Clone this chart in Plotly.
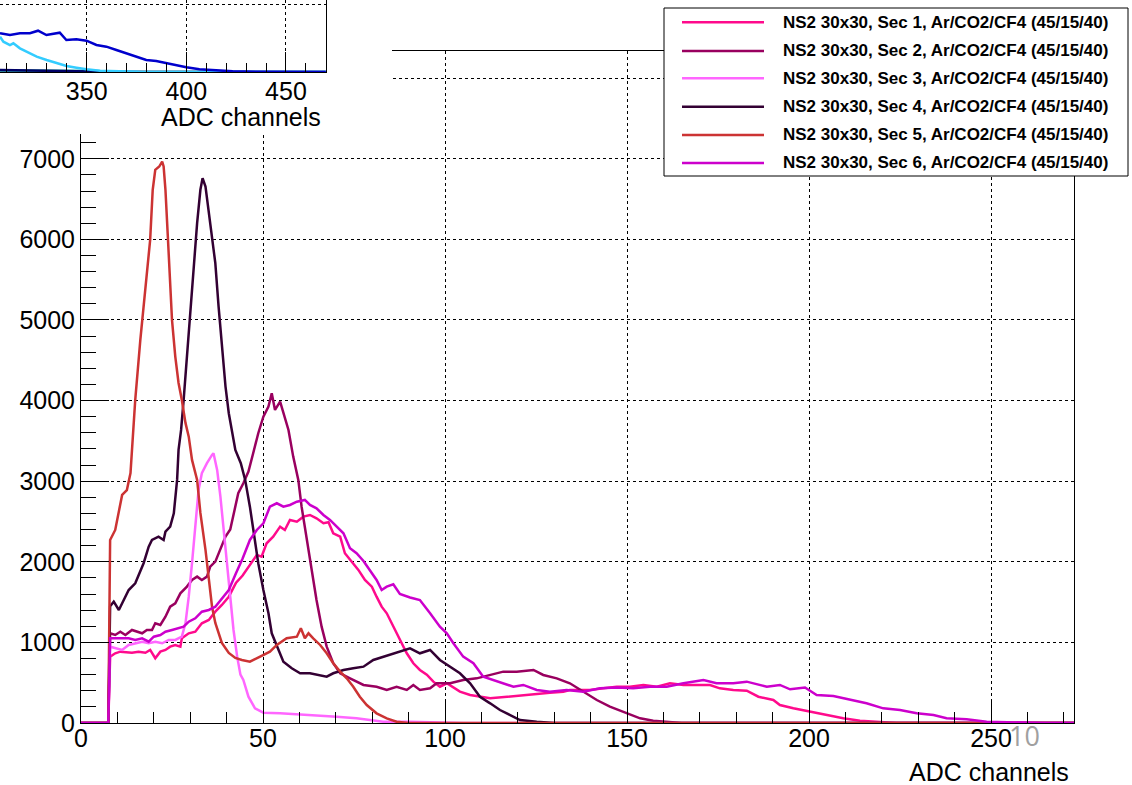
import plotly.graph_objects as go

W, H = 1132, 785

# ---------------- data ----------------
labels = [
    "NS2 30x30, Sec 1, Ar/CO2/CF4 (45/15/40)",
    "NS2 30x30, Sec 2, Ar/CO2/CF4 (45/15/40)",
    "NS2 30x30, Sec 3, Ar/CO2/CF4 (45/15/40)",
    "NS2 30x30, Sec 4, Ar/CO2/CF4 (45/15/40)",
    "NS2 30x30, Sec 5, Ar/CO2/CF4 (45/15/40)",
    "NS2 30x30, Sec 6, Ar/CO2/CF4 (45/15/40)",
]
colors = ["#ff0a8c", "#99005f", "#ff66ff", "#330033", "#cc3333", "#cc00cc"]

sec1_x = [0, 7.5, 8, 9.4, 10.8, 14, 15.8, 17.7, 19, 20.4, 21.8, 23.2, 24.5, 25.9, 27.3, 27.7, 29.6, 31.4,
          33.2, 35.1, 36.9, 38.7, 40.6, 42.6, 44.4, 46.4, 48.3, 49.6, 51, 52.8, 54.7, 56, 57.4, 59.3, 61.1,
          62.9, 64.7, 66.6, 68, 69.3, 71.2, 72.5, 74.4, 76.2, 78, 79.9, 81.2, 82.6, 84, 85.8, 87.6, 89.5,
          91.3, 93.1, 95, 96.8, 98.6, 100.5, 104.1, 106.9, 112.4, 117, 120.6, 125.2, 128.8, 132.5, 134.3,
          136.2, 139.8, 143.5, 147.2, 150.8, 154.5, 158.2, 161.8, 165.5, 170.1, 172.8, 175.5, 179.2,
          182.9, 186.1, 190.2, 192, 195.7, 200.3, 204.9, 209.4, 214, 218.6, 224, 272.8]
sec1_y = [0, 0, 823, 865, 885, 872, 885, 872, 906, 803, 885, 906, 947, 968, 947, 1051, 1113, 1133,
          1237, 1278, 1381, 1464, 1567, 1740, 1830, 1961, 2085, 2064, 2230, 2312, 2436, 2395, 2519, 2498, 2560,
          2581, 2540, 2478, 2490, 2354, 2312, 2106, 2002, 1899, 1775, 1692, 1567, 1443, 1361, 1195, 1030, 865,
          741, 658, 600, 513, 450, 493, 389, 347, 306, 326, 347, 368, 375, 389, 410,
          410, 410, 430, 450, 450, 472, 450, 493, 472, 470, 472, 430, 410,
          400, 326, 285, 223, 182, 140, 99, 58, 29, 16, 0, 0]

sec2_x = [0, 7.5, 8, 9.4, 10.8, 12.2, 14, 15.4, 16.8, 18.1, 19.5, 20.4, 21.8, 23.2, 24.5, 25.9, 27.3,
          29.1, 30.5, 31.9, 33.2, 34.6, 35.5, 36.9, 37.8, 38.7, 39.7, 41, 41.9, 43.2, 44.6, 46, 47.3, 48.7,
          50.1, 51.5, 52.4, 53.3, 54.7, 55.6, 57, 58.3, 59.7, 60.6, 62, 63.4, 64.7, 66.1, 67.5, 69.3,
          71.2, 73.9, 77.6, 81.2, 84, 86.7, 89.5, 91.3, 93.1, 95.9, 97.7, 101.4, 105, 108.7, 112.4,
          116, 119.7, 124.3, 127, 130.7, 134.3, 138, 141.7, 145.3, 149.9, 153.6, 157.2, 160.9, 165, 272.8]
sec2_y = [0, 0, 1113, 1092, 1133, 1092, 1154, 1133, 1113, 1154, 1154, 1237, 1216, 1319, 1443, 1485, 1609,
          1692, 1775, 1816, 1775, 1816, 1940, 2002, 2106, 2209, 2312, 2400, 2602, 2850, 2975, 3119, 3347, 3595,
          3801, 3925, 4091, 3884, 3987, 3843, 3636, 3305, 3016, 2684, 2271, 1858, 1526, 1195, 947, 741,
          617, 554, 472, 450, 410, 450, 410, 472, 410, 430, 493, 493, 534, 554, 596,
          637, 637, 658, 596, 554, 493, 389, 285, 203, 120, 58, 29, 16, 0, 0]

sec3_x = [0, 7.5, 8, 9.4, 11.3, 13.1, 14.9, 16.8, 18.6, 20.4, 22.3, 24.1, 25.9, 27.7, 28.7, 29.6, 30.5,
          31.4, 32.3, 33.2, 34.6, 36, 36.4, 37.4, 38.3, 39.2, 40.1, 41, 41.9, 42.9, 43.8, 44.6, 46, 47.8,
          50.1, 54.7, 59.3, 64.7, 70.2, 75.7, 79.4, 83, 90, 100, 105, 272.8]
sec3_y = [0, 0, 947, 927, 906, 968, 989, 1009, 989, 1009, 989, 1030, 1030, 1071, 1237, 1567, 1982,
          2478, 2892, 3099, 3223, 3326, 3347, 3140, 2808, 2395, 1982, 1567, 1154, 823, 600, 534, 326, 182,
          128, 120, 108, 99, 78, 58, 37, 16, 15, 8, 0, 0]

sec4_x = [0, 7.5, 8, 9, 10.4, 11.3, 13.1, 14.9, 16.3, 17.2, 18.6, 19.5, 21.3, 22.7, 23.2, 24.5, 25.5,
          26.4, 26.8, 27.5, 28.2, 29.1, 30, 31, 31.9, 32.8, 33.4, 34.2, 35.1, 36, 36.9, 37.8, 38.7, 39.7,
          40.6, 41.5, 42.4, 43.9, 45.1, 46.4, 47.3, 48.7, 50.1, 51.5, 52.4, 54.2, 55.6, 57.9, 60.2, 62.9,
          65.7, 67.5, 69.3, 72.1, 74.8, 77.6, 80.3, 83, 85.8, 87.6, 90.4, 93.1, 95.9, 98.6, 101.4, 104.1,
          106.9, 109.6, 112.4, 115.1, 117.9, 120.6, 125.2, 130, 272.8]
sec4_y = [0, 0, 1450, 1506, 1402, 1485, 1650, 1733, 1899, 1982, 2188, 2271, 2312, 2271, 2374, 2436, 2602,
          3016, 3388, 3636, 4008, 4546, 5166, 5663, 6201, 6615, 6760, 6656, 6325, 5994, 5705, 5166, 4670, 4174,
          3843, 3636, 3388, 3223, 3016, 2684, 2395, 1982, 1650, 1361, 1113, 906, 761, 679, 617, 617,
          596, 575, 617, 658, 679, 699, 782, 823, 865, 885, 927, 865, 906, 782, 699, 617,
          493, 326, 244, 161, 99, 37, 16, 0, 0]

sec5_x = [0, 7.5, 8, 9.4, 11.3, 12.6, 13.6, 14, 14.5, 14.9, 16.3, 17.2, 18.1, 19, 19.7, 20.4, 21.5, 22.3,
          22.7, 23.2, 23.9, 24.5, 25, 25.9, 26.8, 27.7, 28.7, 29.6, 30.5, 31.9, 32.8, 34.2, 35.1, 36,
          36.9, 38.7, 40.6, 42.4, 44.2, 46.4, 49.2, 51.9, 53.8, 56.5, 59.3, 60.4, 61.5, 62.5, 63.8, 65.7,
          67.5, 69.3, 71.2, 73, 74.8, 76.6, 78.5, 81.2, 84, 86.7, 90, 272.8]
sec5_y = [0, 0, 2271, 2395, 2830, 2890, 3100, 3390, 3800, 4008, 4753, 5166, 5585, 5994, 6615, 6863, 6904, 6966,
          6904, 6615, 5994, 5498, 5001, 4546, 4219, 4008, 3723, 3553, 3264, 3016, 2606, 2147, 1816, 1443,
          1241, 993, 869, 807, 782, 761, 823, 885, 968, 1051, 1071, 1175, 1051, 1113, 1051, 968,
          865, 741, 637, 554, 450, 326, 223, 120, 58, 16, 0, 0]

sec6_x = [0, 7.5, 8, 9.4, 13.1, 14.9, 16.8, 18.6, 20, 21.8, 23.2, 25, 26.8, 28.2, 29.6, 31.4, 33.2, 35.1,
          36.9, 38.7, 40.6, 42.6, 44.4, 46.4, 48.3, 50.1, 51.9, 53.8, 55.6, 57.4, 59.3, 61.5, 62.9, 64.7,
          66.6, 68.4, 70.2, 72.1, 73.9, 75.7, 77.6, 79.4, 81.2, 82.6, 84, 85.8, 87.6, 90.4, 93.1, 95.9,
          98.6, 100.5, 102.3, 105, 107.8, 110.5, 113.3, 116, 118.8, 121.5, 125.2, 128.8, 133.4, 138, 142.6,
          147.2, 151.7, 156.3, 160.9, 165.5, 171, 174.6, 179.2, 182.9, 188.4, 192, 194.8, 198.9, 202.1,
          206.7, 211.3, 215.8, 220.4, 225, 229.6, 234.2, 237.8, 243.3, 248.8, 254, 260, 265, 272.8]
sec6_y = [0, 0, 1051, 1051, 1051, 1030, 1051, 1009, 1071, 1092, 1133, 1154, 1175, 1195, 1257, 1299, 1381, 1402,
          1443, 1547, 1650, 1860, 2040, 2271, 2395, 2478, 2684, 2726, 2684, 2705, 2746, 2767, 2705, 2664,
          2581, 2519, 2436, 2354, 2168, 2106, 2010, 1899, 1775, 1650, 1692, 1720, 1600, 1557, 1526, 1361,
          1195, 1113, 989, 823, 741, 575, 534, 493, 450, 472, 410, 389, 410, 389, 430,
          440, 430, 450, 450, 493, 534, 493, 493, 513, 450, 472, 418, 440, 347,
          335, 285, 244, 182, 161, 120, 99, 58, 46, 16, 8, 4, 0, 0]

series_x = [sec1_x, sec2_x, sec3_x, sec4_x, sec5_x, sec6_x]
series_y = [sec1_y, sec2_y, sec3_y, sec4_y, sec5_y, sec6_y]

# inset (partially visible, top-left)
inset_colors = ["#009999", "#000066", "#33ccff", "#0000cc"]
inset_teal_x = [306.5, 330, 355, 365, 470]
inset_teal_y = [45, 40, 30, 0, 0]
inset_navy_x = [306.5, 315, 322, 330, 340, 360, 380, 470]
inset_navy_y = [60, 50, 40, 45, 25, 5, 0, 0]
inset_cyan_x = [306.5, 308.2, 311.5, 313.2, 316.5, 319.9, 324.9, 329.9, 334.9, 339.9, 344.9, 349.9, 356.6,
                364.9, 376, 470]
inset_cyan_y = [1054, 905, 806, 856, 706, 607, 458, 358, 259, 179, 129, 80, 40, 20, 5, 0]
inset_blue_x = [306.5, 311.5, 316.5, 321.5, 325.6, 329.8, 336.5, 339.8, 344.8, 349.9, 354.9, 359.9, 364.9,
                369.9, 374.9, 379.9, 384.9, 389.9, 394.9, 400, 406.6, 415, 423.3, 435, 470]
inset_blue_y = [1155, 1104, 1155, 1155, 1233, 1104, 1174, 955, 975, 935, 806, 756, 657, 557, 458, 358, 328,
                259, 209, 139, 80, 40, 20, 5, 0]
inset_x = [inset_teal_x, inset_navy_x, inset_cyan_x, inset_blue_x]
inset_y = [inset_teal_y, inset_navy_y, inset_cyan_y, inset_blue_y]

x_range = [0, 272.8]
y_range = [0, 8337]
y_tickvals = [0, 1000, 2000, 3000, 4000, 5000, 6000, 7000, 8000]
y_ticktext = ["0", "1000", "2000", "3000", "4000", "5000", "6000", "7000", ""]
inset_x_range = [306.5, 470.1]
inset_y_range = [0, 2149]

# ---------------- figure ----------------
def px(x):
    return x / W


def py(y):
    return 1 - y / H


FONT = "Liberation Sans, Arial, Helvetica, sans-serif"
fig = go.Figure()

for xs, ys, c, lab in zip(series_x, series_y, colors, labels):
    fig.add_trace(go.Scatter(x=xs, y=ys, mode="lines", line=dict(color=c, width=2.5),
                             name=lab, showlegend=False, xaxis="x", yaxis="y"))

# empty trace that only makes the white pad of the inset exist
fig.add_trace(go.Scatter(x=[None], y=[None], mode="lines", showlegend=False, hoverinfo="skip",
                         xaxis="x2", yaxis="y2"))

for xs, ys, c in zip(inset_x, inset_y, inset_colors):
    fig.add_trace(go.Scatter(x=xs, y=ys, mode="lines", line=dict(color=c, width=2.5),
                             showlegend=False, xaxis="x3", yaxis="y3"))

grid = dict(showgrid=True, gridcolor="black", gridwidth=1, griddash="3px,3px", zeroline=False,
            showline=True, linecolor="black", linewidth=1, tickcolor="black", tickwidth=1,
            ticks="inside", tickfont=dict(family=FONT, size=25, color="black"), automargin=False)

fig.update_layout(
    width=W, height=H, margin=dict(l=0, r=0, t=0, b=0),
    paper_bgcolor="white", plot_bgcolor="white", showlegend=False,
    xaxis=dict(domain=[px(81), px(1074)], range=x_range, tick0=0, dtick=50, ticklen=22, mirror=True,
               anchor="y", ticklabelstandoff=-7,
               minor=dict(dtick=10, ticklen=11, ticks="inside", tickcolor="black", showgrid=False), **grid),
    yaxis=dict(domain=[py(723), py(51)], range=y_range, tickmode="array", tickvals=y_tickvals,
               ticktext=y_ticktext, ticklen=28, mirror=True, anchor="x", ticklabelstandoff=0,
               minor=dict(dtick=200, ticklen=15, ticks="inside", tickcolor="black", showgrid=False), **grid),
    # white pad of the inset, covering the top-left corner of the main frame
    xaxis2=dict(domain=[0, px(392)], anchor="y2", visible=False, range=[0, 1], showgrid=False),
    yaxis2=dict(domain=[py(134), 1], anchor="x2", visible=False, range=[0, 1], showgrid=False),
    # inset
    xaxis3=dict(domain=[0, px(326)], range=inset_x_range, anchor="y3", tick0=0, dtick=50, ticklen=20,
                ticklabelstandoff=-3,
                minor=dict(dtick=10, ticklen=9, ticks="inside", tickcolor="black", showgrid=False), **grid),
    yaxis3=dict(domain=[py(72), 1], range=inset_y_range, anchor="x3", side="right", dtick=2000,
                showgrid=True, gridcolor="black", gridwidth=1, griddash="3px,3px", zeroline=False,
                showline=True, linecolor="black", linewidth=1, ticks="", showticklabels=False,
                automargin=False),
)

shapes = [dict(type="rect", xref="paper", yref="paper", x0=px(664), x1=px(1128), y0=py(176), y1=py(8),
               line=dict(color="black", width=1), fillcolor="white", layer="above")]
annotations = []
row_y = [22.3, 51, 78.3, 106.7, 135, 163]
for lab, c, ry in zip(labels, colors, row_y):
    shapes.append(dict(type="line", xref="paper", yref="paper", x0=px(682), x1=px(764), y0=py(ry), y1=py(ry),
                       line=dict(color=c, width=2.5), layer="above"))
    annotations.append(dict(xref="paper", yref="paper", x=px(781), y=py(ry), xanchor="left", yanchor="middle",
                            text=lab, showarrow=False,
                            font=dict(family=FONT, size=17, color="black", weight="bold")))

annotations.append(dict(xref="paper", yref="paper", x=px(1071), y=py(772), xanchor="right", yanchor="middle",
                        text="ADC channels", showarrow=False, font=dict(family=FONT, size=25, color="black")))
annotations.append(dict(xref="paper", yref="paper", x=px(323), y=py(117), xanchor="right", yanchor="middle",
                        text="ADC channels", showarrow=False, font=dict(family=FONT, size=25, color="black")))
annotations.append(dict(xref="paper", yref="paper", x=px(1024), y=py(735), xanchor="center", yanchor="middle",
                        text="10", showarrow=False,
                        font=dict(family="Open Sans, sans-serif", size=27, color="#a0a0a0")))

fig.update_layout(shapes=shapes, annotations=annotations)
fig.write_html("out.html", config={"displayModeBar": False},
               post_script="document.body.style.margin='0px';")
